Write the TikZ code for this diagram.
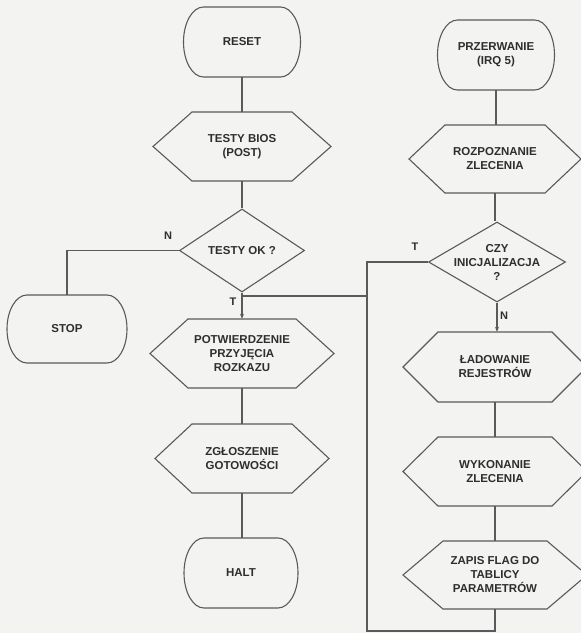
\documentclass[tikz,border=0pt]{standalone}
\usepackage{fontspec}
\setmainfont{Liberation Sans}
\usetikzlibrary{shapes.geometric,arrows.meta}
\definecolor{bgc}{HTML}{F3F3F1}
\definecolor{lin}{HTML}{5A5A5A}
\definecolor{txt}{HTML}{2E2E2E}
\tikzset{
  lbl/.style={font=\bfseries\fontsize{11.5}{14}\selectfont, align=center, text=txt, inner sep=0pt},
  ln/.style={draw=lin, line width=1.1pt},
  dia/.style={ln, diamond, inner sep=0pt, aspect=1.6},
  arr/.style={ln, -{Stealth[length=5pt,width=4pt]}},
  yn/.style={font=\bfseries\fontsize{11}{13}\selectfont, text=txt, inner sep=0pt}
}
% #1 name, #2 position, #3 half top edge, #4 half height, #5 half full width, #6 text
\newcommand{\hexnode}[6]{%
  \node[lbl, minimum width=2*#3 pt, minimum height=2*#4 pt] (#1) at (#2) {#6};
  \draw[ln] ([shift={(-#3pt,#4pt)}]#1.center) -- ([shift={(#3pt,#4pt)}]#1.center)
    -- ([shift={(#5pt,0pt)}]#1.center) -- ([shift={(#3pt,-#4pt)}]#1.center)
    -- ([shift={(-#3pt,-#4pt)}]#1.center) -- ([shift={(-#5pt,0pt)}]#1.center) -- cycle;}
% terminal: #1 name, #2 position, #3 half width, #4 half height, #5 text
\newcommand{\termnode}[5]{%
  \node[lbl, minimum width=2*#3 pt, minimum height=2*#4 pt] (#1) at (#2) {#5};
  \draw[ln] ([shift={({(-#3+20)*1pt},#4pt)}]#1.center) -- ([shift={({(#3-20)*1pt},#4pt)}]#1.center)
    arc[start angle=90, end angle=-90, x radius=20pt, y radius=#4pt]
    -- ([shift={({(-#3+20)*1pt},-#4pt)}]#1.center)
    arc[start angle=270, end angle=90, x radius=20pt, y radius=#4pt] -- cycle;}
\begin{document}
\begin{tikzpicture}[x=1pt,y=-1pt]
\useasboundingbox (0,0) rectangle (581,633);
\clip (0,0) rectangle (581,633);
\fill[bgc] (0,0) rectangle (581,633);

% left column
\termnode{reset}{242,42}{58.5}{35}{RESET}
\hexnode{bios}{242,146.5}{50}{34.5}{89}{TESTY BIOS\\(POST)}
\node[dia, minimum width=125pt, minimum height=83pt] (ok) at (242,250.5) {};
\node[lbl] (okt) at (ok.center) {TESTY OK ?};
\termnode{stop}{67,329}{60}{34}{STOP}
\hexnode{potw}{242,353.5}{54}{34.5}{92}{POTWIERDZENIE\\PRZYJĘCIA\\ROZKAZU}
\hexnode{zglo}{242,458.5}{50}{34.5}{87}{ZGŁOSZENIE\\GOTOWOŚCI}
\termnode{halt}{241,573}{57}{35}{HALT}

% right column
\termnode{przer}{496,55}{58.5}{35}{PRZERWANIE\\(IRQ 5)}
\hexnode{rozp}{495,159}{50}{34}{86}{ROZPOZNANIE\\ZLECENIA}
\node[dia, minimum width=137pt, minimum height=80pt] (czy) at (497,262) {};
\node[lbl] (czyt) at (czy.center) {CZY\\INICJALIZACJA\\?};
\hexnode{lad}{495,367}{57}{35}{92}{ŁADOWANIE\\REJESTRÓW}
\hexnode{wyk}{495,471.5}{57}{34.5}{92}{WYKONANIE\\ZLECENIA}
\hexnode{zapis}{495,575}{52}{34}{92}{ZAPIS FLAG DO\\TABLICY\\PARAMETRÓW}

% labels
\node[yn] (n1) at (168,236) {N};
\node[yn] (t1) at (233,302) {T};
\node[yn] (t2) at (415,247) {T};
\node[yn] (n2) at (504,316) {N};

% helper coordinates
\coordinate (lx) at (367,0);
\coordinate (bot) at (0,631);
\coordinate (j1) at (242,296);

% connectors
\draw[ln] (reset) -- (bios);
\draw[ln] (bios) -- (ok);
\draw[ln] (ok.west) -| (stop.north);
\draw[arr] (ok.south) -- (potw.north);
\draw[ln] (j1) -- (j1 -| lx);
\draw[ln] (potw) -- (zglo);
\draw[ln] (zglo.south) -- (zglo.south |- halt.north);

\draw[ln] (przer.south) -- (przer.south |- rozp.north);
\draw[ln] (rozp.south) -- (rozp.south |- czy.north);
\draw[arr] (czy.south) -- (czy.south |- lad.north);
\draw[ln] (lad) -- (wyk);
\draw[ln] (wyk) -- (zapis);
\draw[ln] (czy.west) -- (czy.west -| lx) -- (lx |- bot) -| (zapis.south);
\end{tikzpicture}
\end{document}
